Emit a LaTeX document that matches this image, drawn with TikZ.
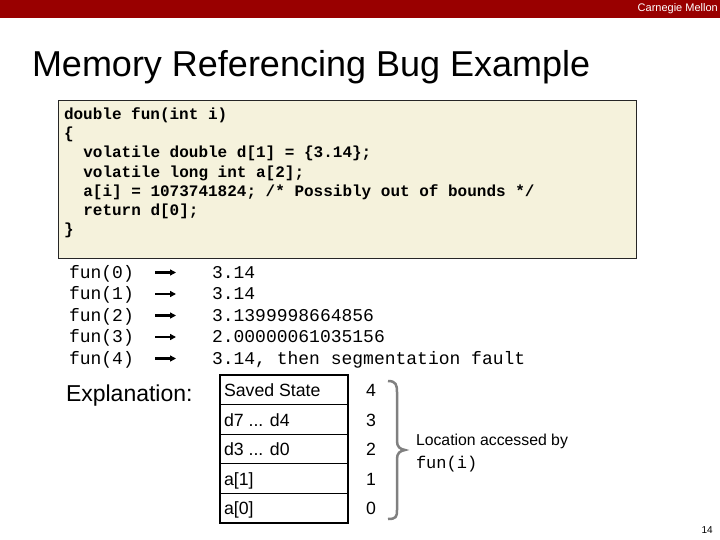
\documentclass[tikz,border=0pt]{standalone}
\usepackage{fontspec}
\setmainfont{Liberation Sans}
\newfontfamily\codefont{Liberation Mono}
\usetikzlibrary{arrows.meta}
\definecolor{cmured}{HTML}{990000}
\definecolor{codebg}{HTML}{F5F2DC}
\definecolor{bracegray}{HTML}{808080}
\tikzset{
  txt/.style={anchor=base west, inner sep=0pt, outer sep=0pt},
  codeln/.style={txt, font=\codefont\bfseries\fontsize{16}{16}\selectfont},
  resln/.style={txt, font=\codefont\fontsize{18}{18}\selectfont},
  cell/.style={draw=black, line width=1.3pt, minimum width=128pt, minimum height=29.6pt, inner sep=0pt, outer sep=0pt},
  celltxt/.style={txt, font=\fontsize{17.7}{17.7}\selectfont},
  numtxt/.style={anchor=base, inner sep=0pt, font=\fontsize{17.7}{17.7}\selectfont},
  smallarrow/.style={line width=2.2pt, -{Triangle[length=6pt,width=6pt]}}
}
\begin{document}
\begin{tikzpicture}[x=1pt,y=-1pt]
\useasboundingbox (0,0) rectangle (720,540);
\fill[white] (0,0) rectangle (720,540);
% header bar
\fill[cmured] (0,0) rectangle (720,18);
\node[anchor=east, inner sep=0pt, text=white, font=\fontsize{11}{11}\selectfont] (cmu) at (718,9) {Carnegie Mellon};
% title
\node[txt, font=\fontsize{36}{36}\selectfont] (title) at (32,77) {Memory Referencing Bug Example};
% code box
\node[draw=black!85, line width=0.8pt, fill=codebg, minimum width=578pt, minimum height=158pt, anchor=north west, inner sep=0pt] (codebox) at (58,100) {};
\node[codeln] (c1) at (64,119.5) {double fun(int i)};
\node[codeln] (c2) at (64,138.7) {\{};
\node[codeln] (c3) at (83.3,157.9) {volatile double d[1] = \{3.14\};};
\node[codeln] (c4) at (83.3,177.1) {volatile long int a[2];};
\node[codeln] (c5) at (83.3,196.3) {a[i] = 1073741824; /* Possibly out of bounds */};
\node[codeln] (c6) at (83.3,215.5) {return d[0];};
\node[codeln] (c7) at (64,234.7) {\}};
% results
\foreach \i/\v [count=\k from 0] in {0/{3.14},1/{3.14},2/{3.1399998664856},3/{2.00000061035156},4/{3.14, then segmentation fault}} {
  \node[resln] (f\i) at (69,278+21.5*\k) {fun(\i)};
  \node[resln] (r\i) at (212,278+21.5*\k) {\v};
  \coordinate (as\i) at (155,272.5+21.5*\k);
  \coordinate (ae\i) at (176,272.5+21.5*\k);
  \draw[smallarrow] (as\i) -- (ae\i);
}
% explanation
\node[txt, font=\fontsize{23}{23}\selectfont] (expl) at (66,401) {Explanation:};
% stack table
\node[cell, anchor=north west] (s4) at (220,375) {};
\node[cell, anchor=north] (s3) at (s4.south) {};
\node[cell, anchor=north] (s2) at (s3.south) {};
\node[cell, anchor=north] (s1) at (s2.south) {};
\node[cell, anchor=north] (s0) at (s1.south) {};
\node[celltxt] (t4) at (224,396.5) {Saved State};
\node[celltxt] (t3) at (224,426) {d7 ... d4};
\node[celltxt] (t2) at (224,455.5) {d3 ... d0};
\node[celltxt] (t1) at (224,485) {a[1]};
\node[celltxt] (t0) at (224,514.5) {a[0]};
\node[numtxt] (n4) at (371,396.5) {4};
\node[numtxt] (n3) at (371,426) {3};
\node[numtxt] (n2) at (371,455.5) {2};
\node[numtxt] (n1) at (371,485) {1};
\node[numtxt] (n0) at (371,514.5) {0};
% brace
\draw[bracegray, line width=2.5pt] (388,381) .. controls (396,381) and (397,385) .. (397,392)
  -- (397,441) .. controls (397,447) and (400,449) .. (405,450)
  .. controls (400,451) and (397,453) .. (397,459)
  -- (397,510) .. controls (397,517) and (396,519) .. (388,519);
\node[txt, font=\fontsize{15.8}{15.8}\selectfont] (loc) at (416,445) {Location accessed by};
\node[txt, font=\codefont\fontsize{17}{17}\selectfont] (funi) at (416,468) {fun(i)};
% page number
\node[anchor=base east, inner sep=0pt, font=\fontsize{10}{10}\selectfont] (pg) at (713,533) {14};
\end{tikzpicture}
\end{document}
